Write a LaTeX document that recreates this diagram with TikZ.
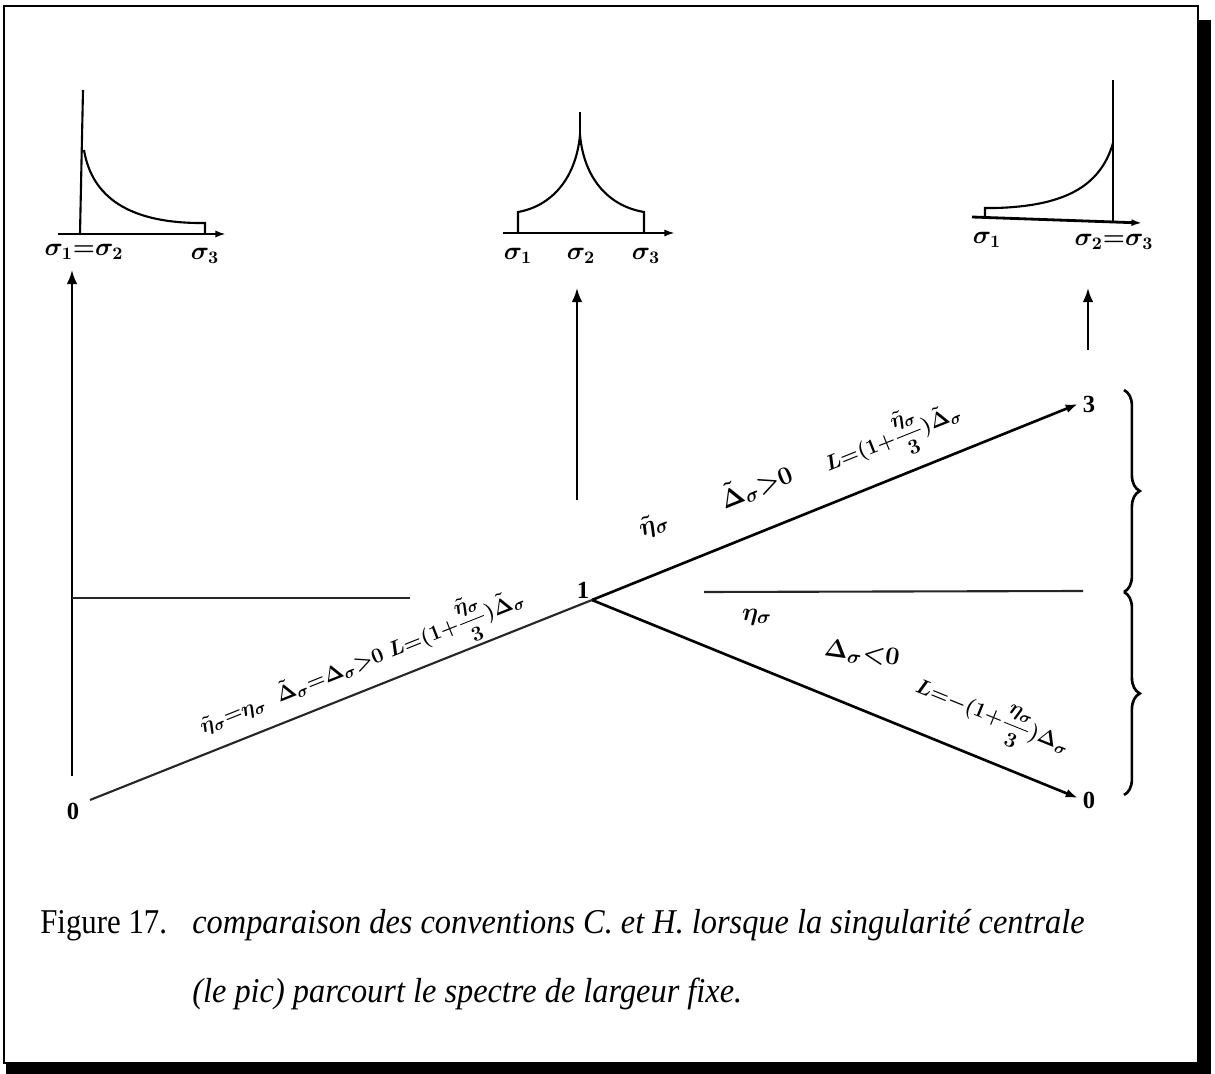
\documentclass[tikz,border=0pt]{standalone}
\usepackage{fontspec}
\usepackage{amsmath}
\setmainfont{Liberation Serif}
\newfontfamily\capup[FakeStretch=0.886]{Liberation Serif}
\newfontfamily\capit[FakeStretch=0.93]{Liberation Serif Italic}
\usetikzlibrary{arrows.meta,decorations.pathreplacing}
\begin{document}
\begin{tikzpicture}[x=0.02cm,y=-0.02cm,
  mainline/.style={line width=1.2pt,black!85},
  specaxis/.style={line width=1.6pt,-{Latex[length=6pt,width=4pt]}},
  speccurve/.style={line width=1.2pt},
  uparrow/.style={line width=1.1pt,-{Latex[length=8pt,width=6pt]}},
  endtip/.style={line width=1.5pt,-{Latex[length=7pt,width=5pt]}},
  handlabel/.style={font=\fontsize{15}{17}\selectfont\boldmath, inner sep=1pt},
  formula/.style={font=\fontsize{13}{15}\selectfont\boldmath, inner sep=1pt},
  axlabel/.style={font=\fontsize{14}{16}\selectfont\boldmath, inner sep=1pt},
  ptlabel/.style={font=\fontsize{14}{16}\selectfont\bfseries, inner sep=1pt},
  captext/.style={font=\fontsize{19.8}{22}\selectfont, anchor=base west, inner sep=0pt}]
\useasboundingbox (0,0) rectangle (1215,1074);
% frame and shadow
\fill[white] (0,0) rectangle (1215,1074);
\draw[line width=1pt] (4,6) rectangle (1198,1063);
\fill[black] (1197,20) rectangle (1211,1074);
\fill[black] (6,1063) rectangle (1211,1074);

% ---- top-left spectrum
\coordinate (la0) at (58,234); \coordinate (la1) at (226,234);
\draw[specaxis] (la0) -- (la1);
\draw[speccurve] (80,234) -- (83,90);
\draw[speccurve] (84,150) .. controls (92,198) and (130,222) .. (197,223) -- (205,223) -- (205,233);
\node[axlabel] (s1a) at (84,252) {$\sigma_1{=}\sigma_2$};
\node[axlabel] (s3a) at (205,256) {$\sigma_3$};

% ---- top-middle spectrum
\coordinate (ma0) at (503,233); \coordinate (ma1) at (675,233);
\draw[specaxis] (ma0) -- (ma1);
\draw[speccurve] (518,233) -- (518,212) .. controls (552,206) and (576,178) .. (580,135)
  .. controls (584,178) and (608,206) .. (644,212) -- (644,233);
\draw[speccurve] (580,135) -- (580,112);
\node[axlabel] (s1b) at (518,256) {$\sigma_1$};
\node[axlabel] (s2b) at (581,256) {$\sigma_2$};
\node[axlabel] (s3b) at (646,256) {$\sigma_3$};

% ---- top-right spectrum
\coordinate (ra0) at (972,217); \coordinate (ra1) at (1142,223);
\draw[specaxis] (ra0) -- (ra1);
\draw[speccurve] (985,217) -- (985,208) -- (996,208) .. controls (1062,206) and (1100,188) .. (1113,143);
\draw[speccurve] (1113,222) -- (1113,80);
\node[axlabel] (s1c) at (987,240) {$\sigma_1$};
\node[axlabel] (s23c) at (1114,242) {$\sigma_2{=}\sigma_3$};

% ---- up arrows
\coordinate (u1b) at (72,776); \coordinate (u1t) at (72,270);
\coordinate (u2b) at (577,500); \coordinate (u2t) at (577,288);
\coordinate (u3b) at (1088,350); \coordinate (u3t) at (1088,288);
\draw[uparrow] (u1b) -- (u1t);
\draw[uparrow] (u2b) -- (u2t);
\draw[uparrow] (u3b) -- (u3t);

% ---- horizontal lines
\coordinate (hl0) at (72,598); \coordinate (hl1) at (410,598);
\coordinate (hr0) at (704,592); \coordinate (hr1) at (1083,591);
\draw[mainline] (hl0) -- (hl1);
\draw[mainline] (hr0) -- (hr1);

% ---- main diagram
\node[ptlabel] (n0) at (73,811) {0};
\node[ptlabel] (n1) at (583,590) {1};
\node[ptlabel] (n3) at (1089,404) {3};
\node[ptlabel] (n0b) at (1089,800) {0};
\coordinate (p0) at (90,800);
\coordinate (p1) at (592,600);
\coordinate (p3) at (1078,404);
\coordinate (q0) at (1078,798);
\draw[mainline] (p0) -- (p1);
\draw[endtip] (p1) -- (p3);
\draw[endtip] (p1) -- (q0);

% labels
\node[formula, rotate=21.8] (lla) at (362,662)
  {$\tilde\eta_\sigma{=}\eta_\sigma\;\;\tilde\Delta_\sigma{=}\Delta_\sigma{>}0\;L{=}(1{+}\dfrac{\tilde\eta_\sigma}{3})\tilde\Delta_\sigma$};
\node[handlabel, rotate=21.8] (llb) at (654,525) {$\tilde\eta_\sigma$};
\node[handlabel, rotate=21.8] (llc) at (756,486) {$\tilde\Delta_\sigma{>}0$};
\node[formula, rotate=21.8] (lld) at (893,438) {$L{=}(1{+}\dfrac{\tilde\eta_\sigma}{3})\tilde\Delta_\sigma$};
\node[handlabel] (lle) at (757,617) {$\eta_\sigma$};
\node[handlabel, rotate=-8] (llf) at (862,654) {$\Delta_\sigma{<}0$};
\node[formula, rotate=-22] (llg) at (992,718) {$L{=}{-}(1{+}\dfrac{\eta_\sigma}{3})\Delta_\sigma$};

% brace
\coordinate (b0) at (1124,390); \coordinate (b1) at (1124,592); \coordinate (b2) at (1124,795);
\draw[line width=1.5pt, decorate, decoration={brace, amplitude=9pt}] (b0) -- (b1);
\draw[line width=1.5pt, decorate, decoration={brace, amplitude=9pt}] (b1) -- (b2);

% caption
\node[captext] (fig) at (40,933) {\capup Figure 17.};
\node[captext] (c1) at (192,933) {\capit comparaison des conventions C. et H. lorsque la singularité centrale};
\node[captext] (c2) at (192,1002) {\capit (le pic) parcourt le spectre de largeur fixe.};
\end{tikzpicture}
\end{document}
